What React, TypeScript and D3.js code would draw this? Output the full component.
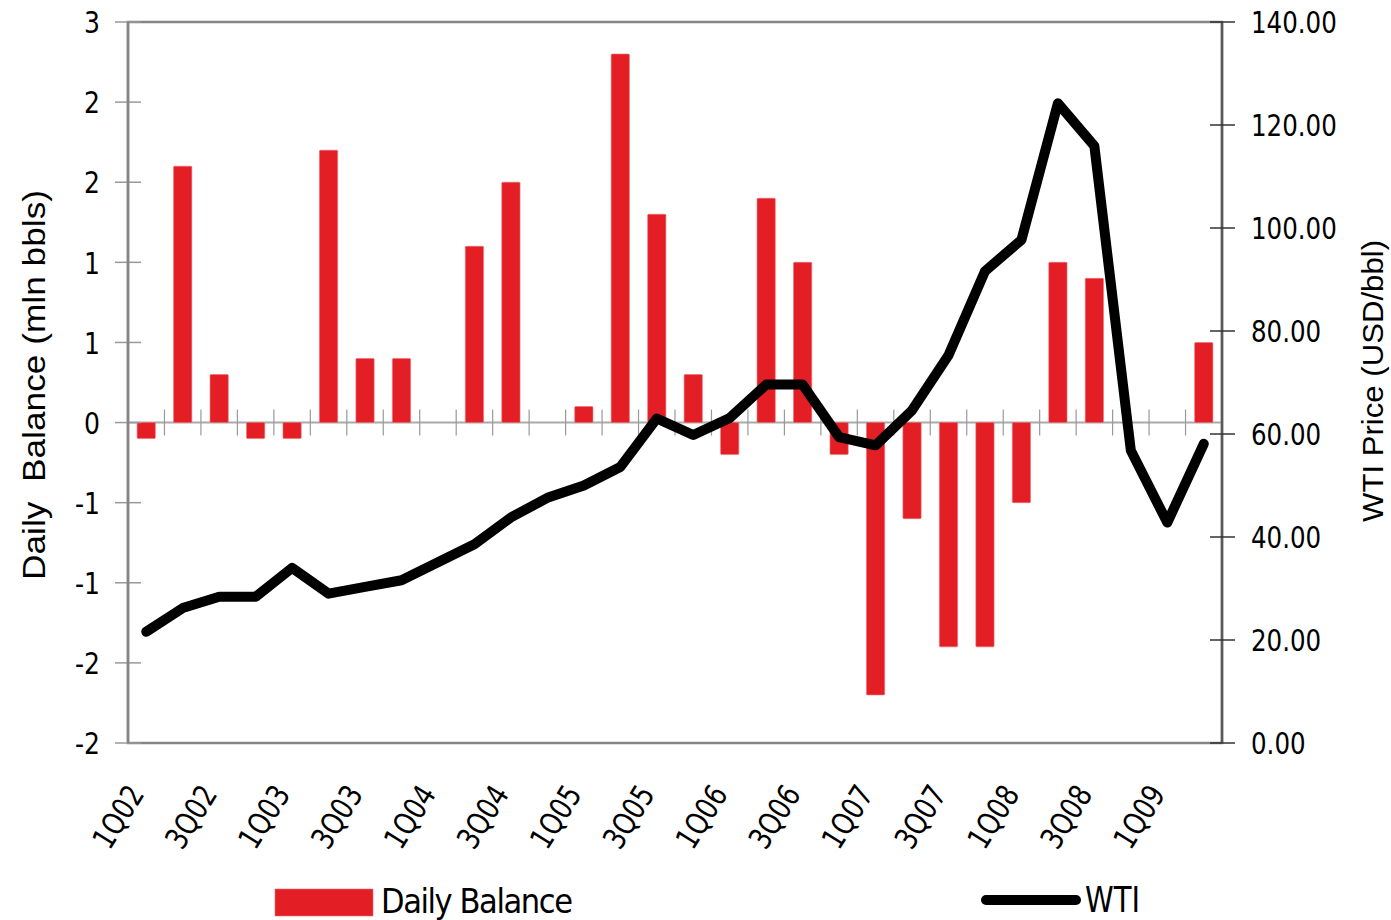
import { line, scaleBand, scaleLinear, select } from "d3";
import React, { useEffect, useRef } from "react";

const quarters = [
  "1Q02", "2Q02", "3Q02", "4Q02", "1Q03", "2Q03", "3Q03", "4Q03",
  "1Q04", "2Q04", "3Q04", "4Q04", "1Q05", "2Q05", "3Q05", "4Q05",
  "1Q06", "2Q06", "3Q06", "4Q06", "1Q07", "2Q07", "3Q07", "4Q07",
  "1Q08", "2Q08", "3Q08", "4Q08", "1Q09", "2Q09",
];
// mln bbls per day
const dailyBalance = [
  -0.1, 1.6, 0.3, -0.1, -0.1, 1.7, 0.4, 0.4,
  0, 1.1, 1.5, 0, 0.1, 2.3, 1.3, 0.3,
  -0.2, 1.4, 1.0, -0.2, -1.7, -0.6, -1.4, -1.4,
  -0.5, 1.0, 0.9, 0, 0, 0.5,
];
// USD/bbl
const wtiPrice = [
  21.6, 26.2, 28.4, 28.4, 34.0, 29.0, 30.3, 31.6,
  35.1, 38.6, 43.8, 47.6, 50.0, 53.6, 63.0, 59.8,
  63.1, 69.6, 69.6, 59.4, 57.8, 64.6, 75.3, 91.6,
  97.7, 124.2, 115.9, 56.8, 42.8, 58.1,
];
const labelQuarters = quarters.filter((q) => q.startsWith("1Q") || q.startsWith("3Q"));
const leftTicks = [-2, -1.5, -1, -0.5, 0, 0.5, 1, 1.5, 2, 2.5];
const leftTickLabels = ["-2", "-2", "-1", "-1", "0", "1", "1", "2", "2", "3"];
const rightTicks = [0, 20, 40, 60, 80, 100, 120, 140];
const rightTickLabels = ["0.00", "20.00", "40.00", "60.00", "80.00", "100.00", "120.00", "140.00"];

const narrow = "'Liberation Sans Narrow', 'DejaVu Sans Condensed', sans-serif";
const plain = "'Liberation Sans', Arial, sans-serif";

function App() {
  const width = 1391;
  const height = 920;
  const left = 128;
  const right = 1222;
  const top = 22;
  const bottom = 743;
  const svgRef = useRef(null);

  useEffect(() => {
    const svg = select(svgRef.current);
    svg.selectAll("*").remove();

    const x = scaleBand().domain(quarters).range([left, right]).paddingInner(0.5).paddingOuter(0.25);
    const yLeft = scaleLinear().domain([-2, 2.5]).range([bottom, top]);
    const yRight = scaleLinear().domain([0, 140]).range([bottom, top]);
    const bw = x.bandwidth();
    const step = x.step();
    const cx = (q) => x(q) + bw / 2;

    // frame
    svg.append("rect")
      .attr("x", left).attr("y", top)
      .attr("width", right - left).attr("height", bottom - top)
      .attr("fill", "none").attr("stroke", "#858585").attr("stroke-width", 2.5);

    // zero line + category ticks
    svg.append("line")
      .attr("x1", left).attr("x2", right)
      .attr("y1", yLeft(0)).attr("y2", yLeft(0))
      .attr("stroke", "#aaaaaa").attr("stroke-width", 2);
    svg.selectAll("line.cat")
      .data(quarters.slice(1))
      .join("line")
      .attr("class", "cat")
      .attr("x1", (q) => cx(q) - step / 2).attr("x2", (q) => cx(q) - step / 2)
      .attr("y1", yLeft(0) - 13).attr("y2", yLeft(0) + 13)
      .attr("stroke", "#999999").attr("stroke-width", 1.2);

    // bars
    svg.selectAll("rect.bar")
      .data(dailyBalance)
      .join("rect")
      .attr("class", "bar")
      .attr("x", (d, i) => x(quarters[i]))
      .attr("width", bw)
      .attr("y", (d) => yLeft(Math.max(0, d)))
      .attr("height", (d) => Math.abs(yLeft(d) - yLeft(0)))
      .attr("rx", 1)
      .attr("fill", "#e31e24")
      .attr("stroke", "#ef6f72")
      .attr("stroke-width", 0.6);

    // WTI line
    const wtiLine = line()
      .x((d, i) => cx(quarters[i]))
      .y((d) => yRight(d));
    svg.append("path")
      .attr("d", wtiLine(wtiPrice))
      .attr("fill", "none")
      .attr("stroke", "#000")
      .attr("stroke-width", 10)
      .attr("stroke-linejoin", "round")
      .attr("stroke-linecap", "round");

    // left axis
    svg.selectAll("line.lt")
      .data(leftTicks)
      .join("line")
      .attr("class", "lt")
      .attr("x1", left - 13).attr("x2", left + 13)
      .attr("y1", (d) => yLeft(d)).attr("y2", (d) => yLeft(d))
      .attr("stroke", "#999999").attr("stroke-width", 1.5);
    svg.append("line")
      .attr("x1", left).attr("x2", left).attr("y1", top).attr("y2", bottom)
      .attr("stroke", "#858585").attr("stroke-width", 2.5);
    svg.selectAll("text.ll")
      .data(leftTicks)
      .join("text")
      .attr("class", "ll")
      .attr("transform", (d) => `translate(100,${yLeft(d)}) scale(0.9,1)`)
      .attr("dy", "0.36em")
      .attr("text-anchor", "end")
      .attr("font-family", narrow)
      .attr("font-size", 31)
      .text((d, i) => leftTickLabels[i]);

    // right axis
    svg.append("line")
      .attr("x1", right).attr("x2", right).attr("y1", top).attr("y2", bottom)
      .attr("stroke", "#5a5a5a").attr("stroke-width", 2.5);
    svg.selectAll("line.rt")
      .data(rightTicks)
      .join("line")
      .attr("class", "rt")
      .attr("x1", right - 12).attr("x2", right + 13)
      .attr("y1", (d) => yRight(d)).attr("y2", (d) => yRight(d))
      .attr("stroke", "#333333").attr("stroke-width", 1.5);
    svg.selectAll("text.rl")
      .data(rightTicks)
      .join("text")
      .attr("class", "rl")
      .attr("transform", (d) => `translate(1251,${yRight(d)}) scale(0.88,1)`)
      .attr("dy", "0.36em")
      .attr("font-family", narrow)
      .attr("font-size", 31)
      .text((d, i) => rightTickLabels[i]);

    // x labels
    svg.selectAll("text.xl")
      .data(labelQuarters)
      .join("text")
      .attr("class", "xl")
      .attr("text-anchor", "end")
      .attr("transform", (q) => `translate(${cx(q) - 1},${794}) rotate(-58) scale(0.9,1)`)
      .attr("font-family", narrow)
      .attr("font-size", 31)
      .text((q) => q);

    // axis titles
    svg.append("text")
      .attr("transform", "translate(45,385) rotate(-90)")
      .attr("text-anchor", "middle")
      .attr("font-family", plain)
      .attr("font-size", 32)
      .attr("textLength", 390)
      .attr("lengthAdjust", "spacingAndGlyphs")
      .style("white-space", "pre")
      .text("Daily  Balance (mln bbls)");
    svg.append("text")
      .attr("transform", "translate(1383,381) rotate(-90)")
      .attr("text-anchor", "middle")
      .attr("font-family", plain)
      .attr("font-size", 30)
      .attr("textLength", 282)
      .attr("lengthAdjust", "spacingAndGlyphs")
      .text("WTI Price (USD/bbl)");

    // legend
    svg.append("rect")
      .attr("x", 275).attr("y", 889).attr("width", 98).attr("height", 27)
      .attr("fill", "#e31e24").attr("stroke", "#ef6f72").attr("stroke-width", 0.6);
    svg.append("text")
      .attr("x", 381).attr("y", 913)
      .attr("font-family", narrow).attr("font-size", 34)
      .attr("textLength", 192).attr("lengthAdjust", "spacing")
      .text("Daily Balance");
    svg.append("line")
      .attr("x1", 986).attr("x2", 1076).attr("y1", 900).attr("y2", 900)
      .attr("stroke", "#000").attr("stroke-width", 10).attr("stroke-linecap", "round");
    svg.append("text")
      .attr("x", 1085).attr("y", 912)
      .attr("font-family", narrow).attr("font-size", 36)
      .attr("textLength", 55).attr("lengthAdjust", "spacingAndGlyphs")
      .text("WTI");
  }, []);

  return (
    <svg
      ref={svgRef}
      width={width}
      height={height}
      style={{ position: "absolute", left: 0, top: 0, background: "#fff" }}
    ></svg>
  );
}

export default App;
